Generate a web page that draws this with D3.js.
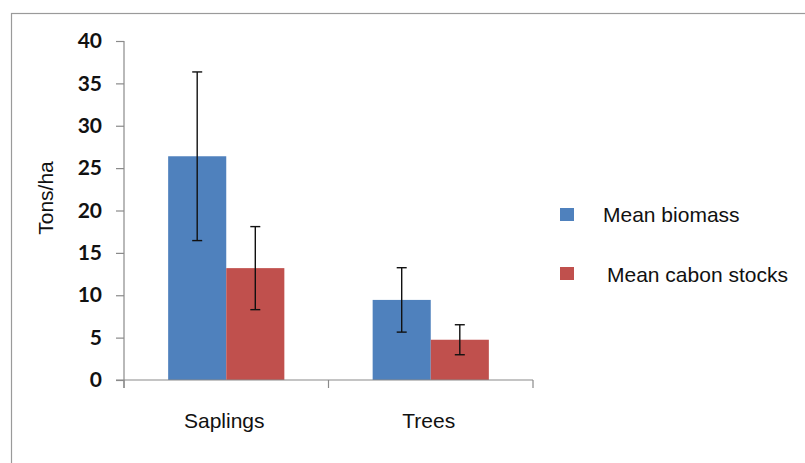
<!DOCTYPE html>
<html>
<head>
<meta charset="utf-8">
<script src="https://cdn.jsdelivr.net/npm/d3@7"></script>
<style>
  body { margin: 0; background: #fff; }
</style>
</head>
<body>
<script>
// Data
var categories = ['Saplings', 'Trees'];
var seriesNames = ['Mean biomass', 'Mean cabon stocks'];
var seriesColors = ['#4f81bd', '#c0504d'];
var biomass = [26.4, 9.45];
var biomassErr = [9.95, 3.8];
var carbon = [13.2, 4.75];
var carbonErr = [4.9, 1.77];
var yTicks = [0, 5, 10, 15, 20, 25, 30, 35, 40];

var width = 805, height = 463;

var svg = d3.select('body').append('svg')
    .attr('width', width)
    .attr('height', height);

// outer frame
svg.append('rect')
    .attr('x', 11.5).attr('y', 13.5)
    .attr('width', 820).attr('height', 480)
    .style('fill', 'none')
    .style('stroke', '#9a9a9a')
    .style('stroke-width', 1.2);

var x = d3.scaleBand()
    .domain(categories)
    .range([124, 533]);

var xInner = d3.scaleBand()
    .domain([0, 1])
    .range([0, x.bandwidth()])
    .paddingOuter(0.76)
    .paddingInner(0);

var y = d3.scaleLinear()
    .domain([0, 40])
    .range([380, 41]);

// rows for bars
var rows = [];
categories.forEach(function(c, i){
    rows.push({cat: c, s: 0, v: biomass[i], e: biomassErr[i]});
    rows.push({cat: c, s: 1, v: carbon[i], e: carbonErr[i]});
});

svg.selectAll('.bar')
    .data(rows)
    .enter()
    .append('rect')
    .attr('class', 'bar')
    .attr('x', function(d){ return x(d.cat) + xInner(d.s); })
    .attr('y', function(d){ return y(d.v); })
    .attr('width', xInner.bandwidth())
    .attr('height', function(d){ return y(0) - y(d.v); })
    .style('fill', function(d){ return seriesColors[d.s]; });

// error bars
var err = svg.selectAll('.err')
    .data(rows)
    .enter()
    .append('g')
    .attr('class', 'err')
    .style('stroke', '#111')
    .style('stroke-width', 1.4);

function cx(d){ return x(d.cat) + xInner(d.s) + xInner.bandwidth() / 2; }

err.append('line')
    .attr('x1', cx).attr('x2', cx)
    .attr('y1', function(d){ return y(d.v + d.e); })
    .attr('y2', function(d){ return y(d.v - d.e); });
err.append('line')
    .attr('x1', function(d){ return cx(d) - 5; })
    .attr('x2', function(d){ return cx(d) + 5; })
    .attr('y1', function(d){ return y(d.v + d.e); })
    .attr('y2', function(d){ return y(d.v + d.e); });
err.append('line')
    .attr('x1', function(d){ return cx(d) - 5; })
    .attr('x2', function(d){ return cx(d) + 5; })
    .attr('y1', function(d){ return y(d.v - d.e); })
    .attr('y2', function(d){ return y(d.v - d.e); });

// y axis
var yAxis = svg.append('g')
    .attr('transform', 'translate(124,0)')
    .call(d3.axisLeft(y).tickValues(yTicks).tickSize(8).tickPadding(14));
yAxis.selectAll('path, line').style('stroke', '#8a8a8a').style('stroke-width', 1.2);
yAxis.select('.domain').attr('d', 'M0,' + y(40) + 'V' + (y(0) + 8));
yAxis.selectAll('text')
    .style('font-family', 'Lato, "Open Sans", sans-serif')
    .style('font-weight', 'bold')
    .style('font-size', '21px')
    .style('fill', '#111');

// x axis
var xAxisG = svg.append('g')
    .attr('transform', 'translate(0,' + y(0) + ')');
xAxisG.append('line')
    .attr('x1', 116).attr('x2', 533)
    .style('stroke', '#8a8a8a').style('stroke-width', 1.2);
xAxisG.selectAll('.xtick')
    .data(x.domain().map(function(c){ return x(c); }).concat([x.range()[1]]))
    .enter()
    .append('line')
    .attr('x1', function(d){ return d; })
    .attr('x2', function(d){ return d; })
    .attr('y1', 0).attr('y2', 8)
    .style('stroke', '#8a8a8a').style('stroke-width', 1.2);
xAxisG.selectAll('.xlabel')
    .data(categories)
    .enter()
    .append('text')
    .attr('x', function(d){ return x(d) + x.bandwidth() / 2 - 2; })
    .attr('y', 48)
    .attr('text-anchor', 'middle')
    .style('font-family', '"Liberation Sans", Arial, sans-serif')
    .style('font-size', '21px')
    .style('fill', '#111')
    .text(function(d){ return d; });

// y axis title
svg.append('text')
    .attr('transform', 'translate(53,198) rotate(-90)')
    .attr('text-anchor', 'middle')
    .style('font-family', '"Liberation Sans", Arial, sans-serif')
    .style('font-size', '21px')
    .style('fill', '#111')
    .text('Tons/ha');

// legend
var legend = svg.selectAll('.legend')
    .data(seriesNames)
    .enter()
    .append('g')
    .attr('class', 'legend')
    .attr('transform', function(d, i){ return 'translate(560,' + (208 + i * 59) + ')'; });
legend.append('rect')
    .attr('width', 14).attr('height', 13)
    .style('fill', function(d, i){ return seriesColors[i]; });
legend.append('text')
    .attr('x', function(d, i){ return i === 0 ? 43 : 47; })
    .attr('y', function(d, i){ return i === 0 ? 14 : 15; })
    .style('font-family', '"Liberation Sans", Arial, sans-serif')
    .style('font-size', '21px')
    .style('fill', '#111')
    .text(function(d){ return d; });
</script>
</body>
</html>
